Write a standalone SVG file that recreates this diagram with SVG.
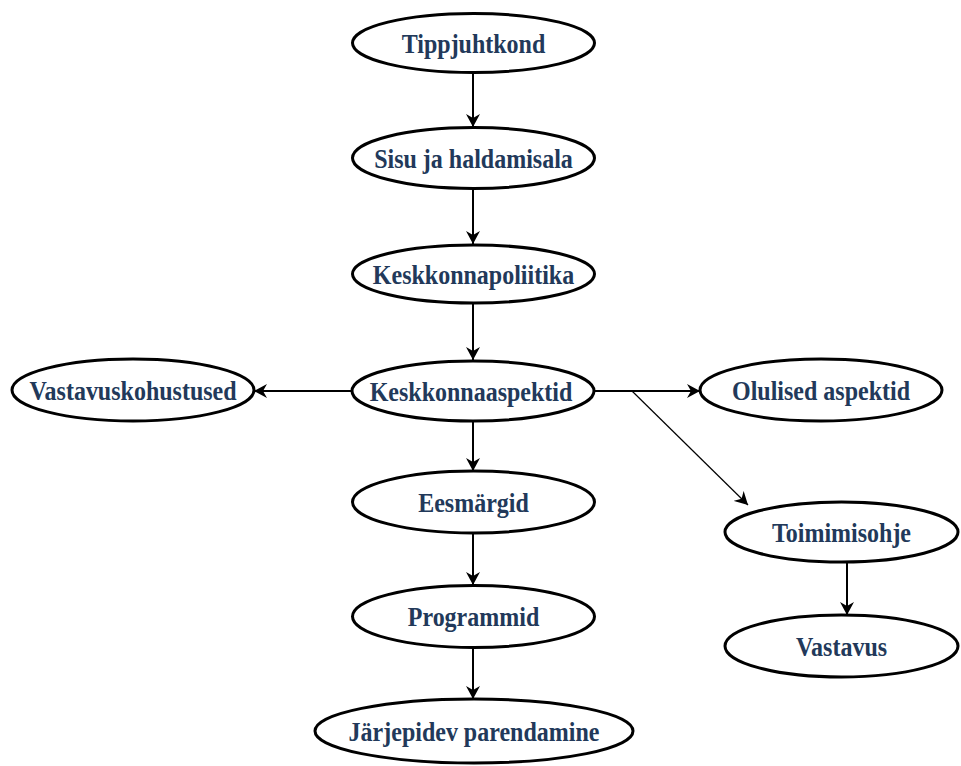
<svg xmlns="http://www.w3.org/2000/svg" width="961" height="766" viewBox="0 0 961 766">
<style>
.n ellipse{fill:#fff;stroke:#000;stroke-width:3}
.n text{font-family:"Liberation Serif","Times New Roman",serif;font-weight:bold;font-size:24px;fill:#22395a;text-anchor:middle}
.c line{stroke:#000;stroke-width:2;fill:none}
.c line.thin{stroke-width:1.2}
</style>
<defs>
<marker id="ah" markerUnits="userSpaceOnUse" markerWidth="14" markerHeight="14" refX="13" refY="7" orient="auto" viewBox="0 0 14 14">
<path d="M0,0 L13,7 L0,14 L4,7 z" fill="#000"/>
</marker>
</defs>
<rect width="961" height="766" fill="#fff"/>
<g class="c">
<line x1="473" y1="73" x2="473" y2="127" marker-end="url(#ah)"/>
<line x1="473" y1="189" x2="473" y2="244" marker-end="url(#ah)"/>
<line x1="473" y1="303" x2="473" y2="360" marker-end="url(#ah)"/>
<line x1="473" y1="421" x2="473" y2="471" marker-end="url(#ah)"/>
<line x1="473" y1="533" x2="473" y2="585" marker-end="url(#ah)"/>
<line x1="473" y1="648" x2="473" y2="699" marker-end="url(#ah)"/>
<line x1="352" y1="391" x2="254" y2="391" marker-end="url(#ah)"/>
<line x1="594" y1="391" x2="700" y2="391" marker-end="url(#ah)"/>
<line class="thin" x1="632" y1="391" x2="748" y2="505" marker-end="url(#ah)"/>
<line x1="847" y1="563" x2="847" y2="615" marker-end="url(#ah)"/>
</g>
<g id="tippjuhtkond" class="n"><ellipse cx="473.5" cy="43" rx="121" ry="29.5"/><text transform="translate(473.5,52.5) scale(1,1.13)">Tippjuhtkond</text></g>
<g id="sisu" class="n"><ellipse cx="473.5" cy="158" rx="121" ry="30.5"/><text transform="translate(473.5,167.5) scale(1,1.13)">Sisu ja haldamisala</text></g>
<g id="keskkonnapoliitika" class="n"><ellipse cx="473.5" cy="274" rx="121" ry="29"/><text transform="translate(473.5,283.5) scale(1,1.13)">Keskkonnapoliitika</text></g>
<g id="keskkonnaaspektid" class="n"><ellipse cx="473" cy="391" rx="121" ry="30"/><text transform="translate(471,400.5) scale(1,1.13)">Keskkonnaaspektid</text></g>
<g id="eesmargid" class="n"><ellipse cx="473.5" cy="502" rx="121" ry="31"/><text transform="translate(473.5,511.5) scale(1,1.13)">Eesmärgid</text></g>
<g id="programmid" class="n"><ellipse cx="473.5" cy="616.5" rx="121" ry="31"/><text transform="translate(473.5,626) scale(1,1.13)">Programmid</text></g>
<g id="jarjepidev" class="n"><ellipse cx="474" cy="731" rx="159" ry="32"/><text transform="translate(474,740.5) scale(1,1.13)">Järjepidev parendamine</text></g>
<g id="vastavuskohustused" class="n"><ellipse cx="133" cy="390" rx="121" ry="31"/><text transform="translate(133,399.5) scale(1,1.13)">Vastavuskohustused</text></g>
<g id="olulised" class="n"><ellipse cx="821" cy="390" rx="121" ry="31"/><text transform="translate(821,399.5) scale(1,1.13)">Olulised aspektid</text></g>
<g id="toimimisohje" class="n"><ellipse cx="841.5" cy="532" rx="116.5" ry="30"/><text transform="translate(841.5,541.5) scale(1,1.13)">Toimimisohje</text></g>
<g id="vastavus" class="n"><ellipse cx="841.5" cy="646" rx="116.5" ry="31"/><text transform="translate(841.5,655.5) scale(1,1.13)">Vastavus</text></g>
</svg>
